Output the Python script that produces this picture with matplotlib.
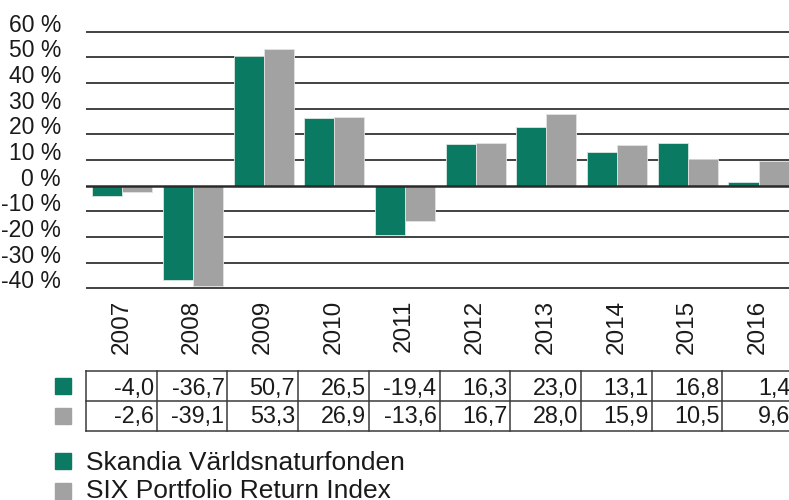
import matplotlib
matplotlib.use("Agg")
import matplotlib.pyplot as plt
from matplotlib.patches import Rectangle
from matplotlib.transforms import blended_transform_factory
import numpy as np

plt.rcParams['font.family'] = ['Liberation Sans', 'DejaVu Sans']

years = ["2007", "2008", "2009", "2010", "2011", "2012", "2013", "2014", "2015", "2016"]
fund = [-4.0, -36.7, 50.7, 26.5, -19.4, 16.3, 23.0, 13.1, 16.8, 1.4]
index = [-2.6, -39.1, 53.3, 26.9, -13.6, 16.7, 28.0, 15.9, 10.5, 9.6]
fund_labels = ["-4,0", "-36,7", "50,7", "26,5", "-19,4", "16,3", "23,0", "13,1", "16,8", "1,4"]
index_labels = ["-2,6", "-39,1", "53,3", "26,9", "-13,6", "16,7", "28,0", "15,9", "10,5", "9,6"]
yticks = [-40, -30, -20, -10, 0, 10, 20, 30, 40, 50, 60]
series_names = ["Skandia Världsnaturfonden", "SIX Portfolio Return Index"]

GREEN = "#0b7a62"
GRAY = "#a2a2a2"
TXT = "#1a1a1a"

W, H = 789, 500
fig = plt.figure(figsize=(W / 100, H / 100), dpi=100)

def fy(py):
    return (H - py) / H

def fx(px):
    return px / W

top_px = 31.7 - 2.566
bot_px = 288.3 + 2.566
ax = fig.add_axes([fx(86), fy(bot_px), fx(707), (bot_px - top_px) / H])
ax.set_xlim(-0.5, 9.5)
ax.set_ylim(-41, 61)

x = np.arange(len(years))
bw = 0.425
ax.bar(x - 0.2, fund, width=bw, color=GREEN, edgecolor="#d8e8e2", linewidth=0.6, zorder=3)
ax.bar(x + 0.225, index, width=bw, color=GRAY, edgecolor="#e2e2e2", linewidth=0.6, zorder=3)

for v in yticks:
    if v == 0:
        ax.axhline(v, color="#2a2a2a", lw=1.8, zorder=4)
    else:
        ax.axhline(v, color="#333333", lw=1.3, zorder=1)

for s in ax.spines.values():
    s.set_visible(False)
ax.set_xticks([])
ax.set_yticks(yticks)
ax.set_yticklabels([f"{v} %" for v in yticks], fontsize=16.5, color=TXT, va="baseline")
ax.tick_params(axis="y", length=0, pad=18)

btr = blended_transform_factory(ax.transData, fig.transFigure)
for i, yr in enumerate(years):
    ax.text(i, fy(300), yr, rotation=90, ha="center", va="top", fontsize=17.5,
            color=TXT, transform=btr, clip_on=False)

rows_px = [370.7, 400.7, 430.7]
for r in rows_px:
    ax.plot([-0.5, 9.6], [fy(r), fy(r)], color="#3a3a3a", lw=1.1, transform=btr, clip_on=False)
for i in range(11):
    ax.plot([i - 0.5, i - 0.5], [fy(rows_px[0]), fy(rows_px[2])], color="#3a3a3a", lw=1.1,
            transform=btr, clip_on=False)

col_px = 707 / 10
off = 3.0 / col_px
for i in range(len(years)):
    ax.text(i + 0.5 - off, fy(394.5), fund_labels[i], ha="right", va="baseline", fontsize=16.8,
            color=TXT, transform=btr, clip_on=False)
    ax.text(i + 0.5 - off, fy(423.5), index_labels[i], ha="right", va="baseline", fontsize=16.8,
            color=TXT, transform=btr, clip_on=False)

fig.patches.append(Rectangle((fx(55), fy(394)), fx(16), 16 / H, color=GREEN, transform=fig.transFigure))
fig.patches.append(Rectangle((fx(55), fy(423.5)), fx(16), 16 / H, color=GRAY, transform=fig.transFigure))

fig.patches.append(Rectangle((fx(55), fy(469)), fx(16), 16 / H, color=GREEN, transform=fig.transFigure))
fig.patches.append(Rectangle((fx(55), fy(499)), fx(16), 16 / H, color=GRAY, transform=fig.transFigure))
fig.text(fx(86), fy(470), series_names[0], ha="left", va="baseline", fontsize=19, color=TXT)
fig.text(fx(86), fy(498.5), series_names[1], ha="left", va="baseline", fontsize=19, color=TXT)

fig.savefig("out.png", dpi=100)
